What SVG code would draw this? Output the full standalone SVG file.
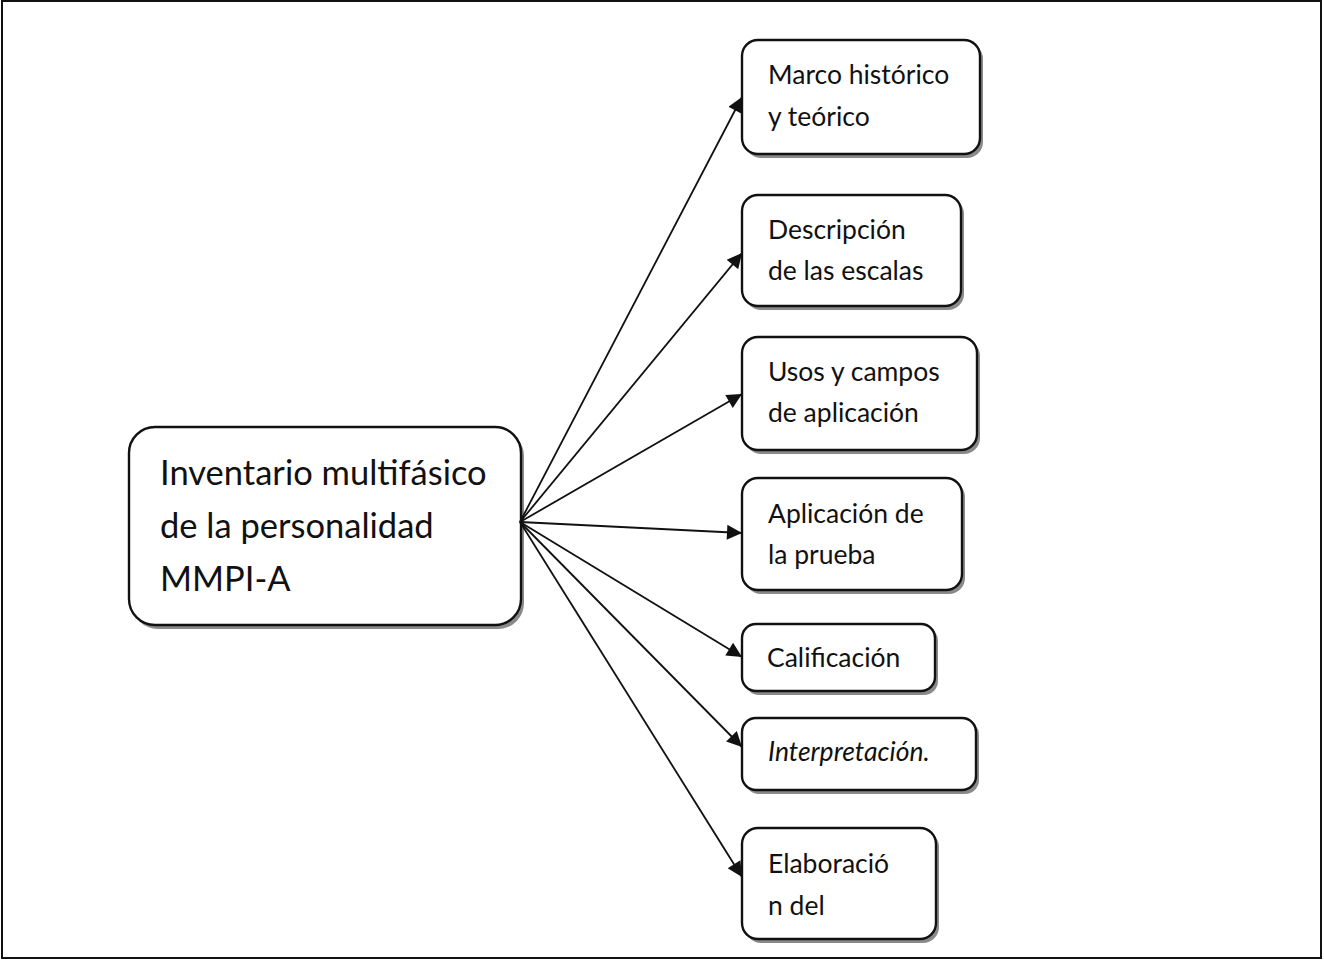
<svg xmlns="http://www.w3.org/2000/svg" width="1324" height="962" viewBox="0 0 1324 962">
<style>
.bg{fill:#fff}
.frame{fill:none;stroke:#111;stroke-width:2}
.shadow{fill:#8a8a8a}
.box{fill:#fff;stroke:#111;stroke-width:2.4}
.t{font-family:Lato,"Liberation Sans",sans-serif;fill:#111}
.s{font-size:26.5px}
.m{font-size:34.5px}
.c line{stroke:#111;stroke-width:1.8;marker-end:url(#ah)}
</style>
<defs>
<marker id="ah" viewBox="0 0 10 10" refX="10" refY="5" markerWidth="18" markerHeight="15" markerUnits="userSpaceOnUse" orient="auto">
<path d="M0,0 L10,5 L0,10 Z" fill="#111"/>
</marker>
</defs>
<rect class="bg" x="0" y="0" width="1324" height="962"/>
<rect class="frame" x="2" y="1" width="1319" height="957"/>

<g id="main">
<rect class="shadow" x="132" y="430" width="392" height="199" rx="26"/>
<rect class="box" x="129" y="427" width="392" height="198" rx="26"/>
<text class="t m" x="160" y="485">Inventario multifásico</text>
<text class="t m" x="160" y="538">de la personalidad</text>
<text class="t m" x="160" y="591">MMPI-A</text>
</g>

<g id="n1">
<rect class="shadow" x="745" y="43" width="238" height="115" rx="16"/>
<rect class="box" x="742" y="40" width="238" height="114" rx="16"/>
<text class="t s" x="768" y="84">Marco histórico</text>
<text class="t s" x="768" y="126">y teórico</text>
</g>

<g id="n2">
<rect class="shadow" x="745" y="198" width="219" height="112" rx="16"/>
<rect class="box" x="742" y="195" width="219" height="111" rx="16"/>
<text class="t s" x="768" y="239">Descripción</text>
<text class="t s" x="768" y="280">de las escalas</text>
</g>

<g id="n3">
<rect class="shadow" x="745" y="340" width="235" height="114" rx="16"/>
<rect class="box" x="742" y="337" width="235" height="113" rx="16"/>
<text class="t s" x="768" y="381">Usos y campos</text>
<text class="t s" x="768" y="422">de aplicación</text>
</g>

<g id="n4">
<rect class="shadow" x="745" y="481" width="220" height="113" rx="16"/>
<rect class="box" x="742" y="478" width="220" height="112" rx="16"/>
<text class="t s" x="768" y="523">Aplicación de</text>
<text class="t s" x="768" y="564">la prueba</text>
</g>

<g id="n5">
<rect class="shadow" x="745" y="627" width="193" height="68" rx="14"/>
<rect class="box" x="742" y="624" width="193" height="67" rx="14"/>
<text class="t s" x="767" y="667">Calificación</text>
</g>

<g id="n6">
<rect class="shadow" x="745" y="721" width="234" height="73" rx="14"/>
<rect class="box" x="742" y="718" width="234" height="72" rx="14"/>
<text class="t s" x="768" y="761" font-style="italic">Interpretación.</text>
</g>

<g id="n7">
<rect class="shadow" x="745" y="831" width="194" height="112" rx="16"/>
<rect class="box" x="742" y="828" width="194" height="111" rx="16"/>
<text class="t s" x="768" y="873">Elaboració</text>
<text class="t s" x="768" y="915">n del</text>
</g>

<g id="connectors" class="c">
<line x1="520" y1="522" x2="742" y2="97"/>
<line x1="520" y1="522" x2="742" y2="253"/>
<line x1="520" y1="522" x2="742" y2="394"/>
<line x1="520" y1="522" x2="742" y2="533"/>
<line x1="520" y1="522" x2="742" y2="657"/>
<line x1="520" y1="522" x2="742" y2="747"/>
<line x1="520" y1="522" x2="742" y2="877"/>
</g>
</svg>
